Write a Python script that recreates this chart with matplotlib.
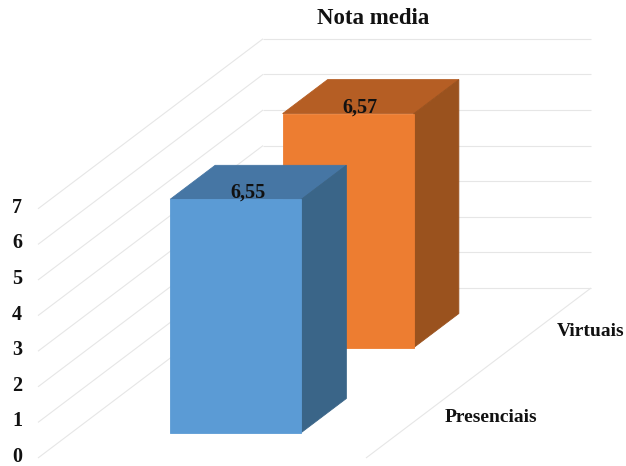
import numpy as np
import matplotlib
matplotlib.use("Agg")
import matplotlib.pyplot as plt
from matplotlib.patches import Polygon

categories = ["Presenciais", "Virtuais"]
values = [6.55, 6.57]
value_labels = ["6,55", "6,57"]
ticks = [0, 1, 2, 3, 4, 5, 6, 7]
title = "Nota media"

FRONT = ["#5B9BD5", "#ED7D31"]
TOP = ["#4676A4", "#B55E24"]
SIDE = ["#3A6588", "#9A521E"]
GRID = "#E6E6E6"

plt.rcParams["font.family"] = ["Liberation Serif", "DejaVu Serif"]
plt.rcParams["font.weight"] = "bold"

fig = plt.figure(figsize=(6.26, 4.66), dpi=100)
ax = fig.add_axes([0, 0, 1, 1])
ax.set_xlim(0, 626)
ax.set_ylim(466, 0)
ax.axis("off")


def project(u, d, v):
    """Oblique projection: u across, d into depth (both 0-1), v = value."""
    return (38 + 328 * u + 225 * d, 458 - 170 * d - 35.6 * v)


def seg(a, b, z=1):
    ax.plot([a[0], b[0]], [a[1], b[1]], color=GRID, lw=0.8, zorder=z,
            solid_capstyle="butt")


for t in ticks:
    seg(project(0, 0, t), project(0, 1, t))
    seg(project(0, 1, t), project(1, 1, t))
    ax.text(17, project(0, 0, t)[1] - 1, str(t), ha="center", va="center",
            fontsize=14.5, color="#111111")
seg(project(1, 0, 0), project(1, 1, 0))

bar_w = 0.4
bar_d = 0.2
n = len(categories)
for i in reversed(range(n)):
    dc = (i + 0.5) / n
    v = values[i]
    u0, u1 = 0.5 - bar_w / 2, 0.5 + bar_w / 2
    d0, d1 = dc - bar_d / 2, dc + bar_d / 2
    z = 3 + (n - i) * 2
    faces = [
        ([(u0, d0, v), (u1, d0, v), (u1, d1, v), (u0, d1, v)], TOP[i]),
        ([(u1, d0, 0), (u1, d1, 0), (u1, d1, v), (u1, d0, v)], SIDE[i]),
        ([(u0, d0, 0), (u1, d0, 0), (u1, d0, v), (u0, d0, v)], FRONT[i]),
    ]
    for pts, col in faces:
        ax.add_patch(Polygon([project(*p) for p in pts], closed=True,
                             facecolor=col, edgecolor=col, lw=0.6, zorder=z))
    x, y = project(0.5, dc, v)
    ax.text(x - 10.5, y + 10.5, value_labels[i], ha="center", va="center",
            fontsize=14.5, color="#111111", zorder=20)
    x, y = project(1, dc, 0)
    ax.text(x + 22, y + 1.5, categories[i], ha="left", va="center",
            fontsize=14, color="#111111")

ax.text(373, 19, title, ha="center", va="center", fontsize=16.5,
        color="#111111")

fig.savefig("out.png", dpi=100)
